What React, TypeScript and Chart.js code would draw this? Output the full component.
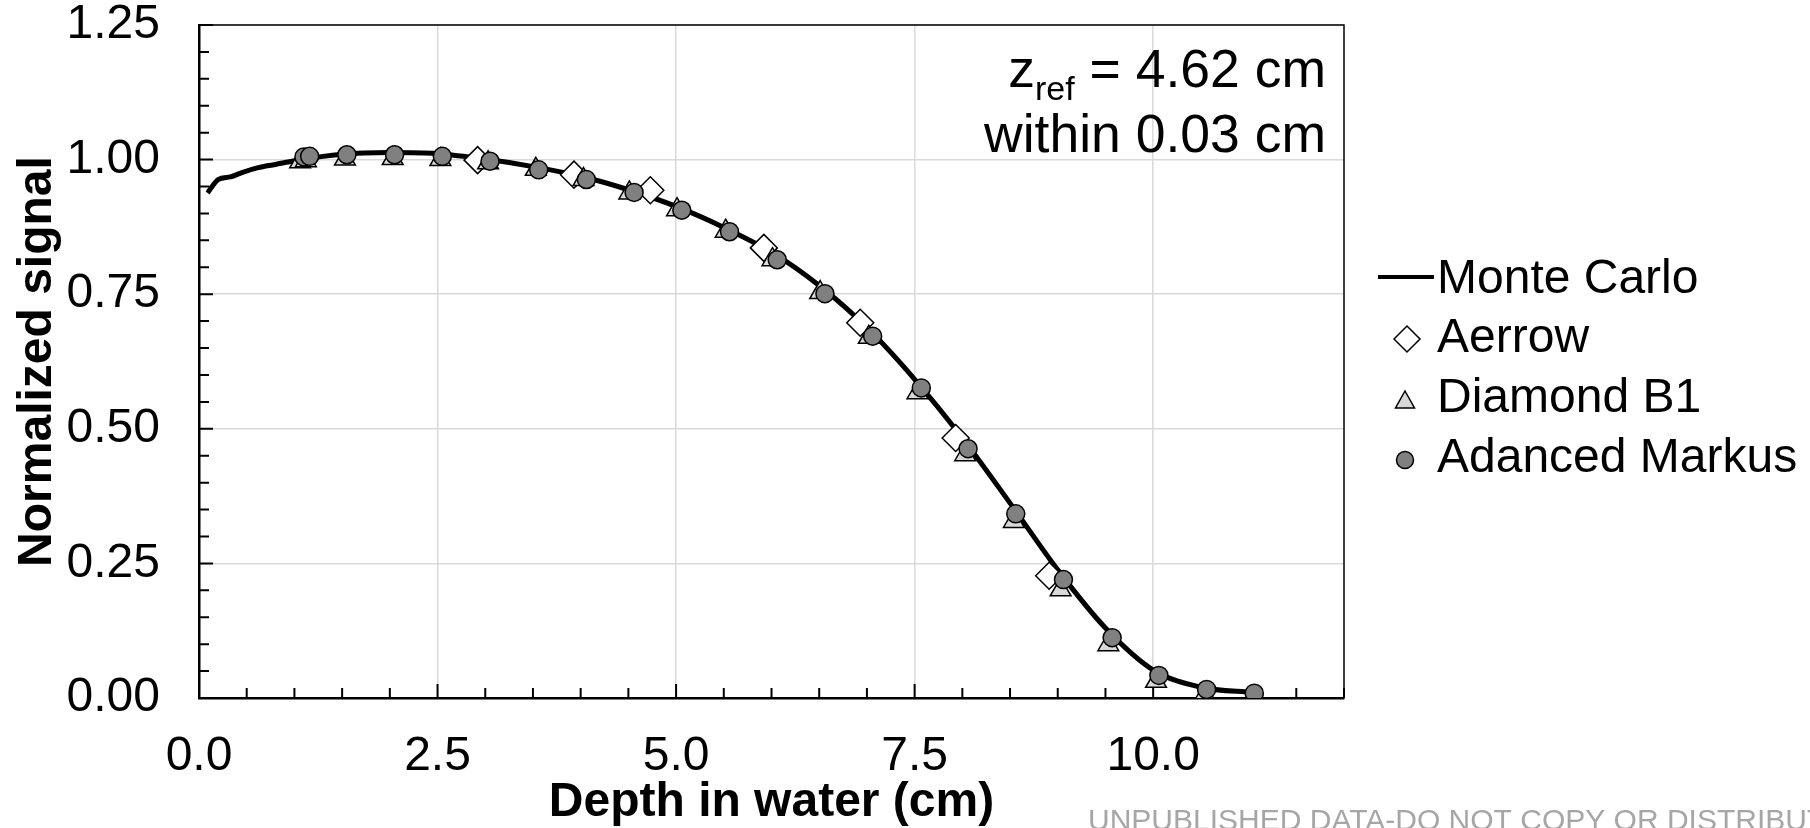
import React, { useEffect, useRef } from 'react';
import { Chart, registerables } from 'chart.js';

Chart.register(...registerables);

// ---- data ----
const mcDepth = [0.09, 0.2, 0.33, 0.45, 0.62, 0.8, 1.0, 1.5, 2.0, 2.5, 3.0, 3.5, 4.0, 4.5, 5.0, 5.5, 6.0, 6.5, 7.0, 7.5, 8.0, 8.5, 9.0, 9.5, 10.0, 10.5, 11.06];
const mcSignal = [0.938, 0.963, 0.968, 0.976, 0.985, 0.991, 0.998, 1.010, 1.013, 1.011, 1.001, 0.987, 0.969, 0.944, 0.913, 0.874, 0.828, 0.766, 0.688, 0.592, 0.483, 0.362, 0.238, 0.130, 0.052, 0.020, 0.010];

const aerrowDepth = [2.92, 3.93, 4.73, 5.92, 6.93, 7.93, 8.91];
const aerrowSignal = [0.999, 0.972, 0.943, 0.836, 0.697, 0.483, 0.227];

const b1Depth = [1.06, 1.12, 1.53, 2.03, 2.53, 3.03, 3.53, 4.03, 4.51, 5.01, 5.52, 6.01, 6.51, 7.02, 7.53, 8.03, 8.54, 9.03, 9.53, 10.03, 10.54];
const b1Signal = [0.996, 0.998, 1.001, 1.002, 1.000, 0.994, 0.982, 0.963, 0.938, 0.907, 0.867, 0.814, 0.753, 0.670, 0.567, 0.452, 0.328, 0.201, 0.099, 0.031, 0.006];

const markusDepth = [1.10, 1.16, 1.55, 2.05, 2.55, 3.05, 3.56, 4.06, 4.56, 5.06, 5.56, 6.06, 6.56, 7.06, 7.57, 8.06, 8.56, 9.06, 9.57, 10.06, 10.56, 11.06];
const markusSignal = [1.005, 1.006, 1.009, 1.009, 1.006, 0.997, 0.981, 0.963, 0.939, 0.906, 0.866, 0.814, 0.751, 0.672, 0.576, 0.463, 0.342, 0.220, 0.112, 0.042, 0.016, 0.009];

const xTickValues = [0, 2.5, 5, 7.5, 10];
const yTickValues = [0, 0.25, 0.5, 0.75, 1.0, 1.25];

const seriesLabels = ['Monte Carlo', 'Aerrow', 'Diamond B1', 'Adanced Markus'];
const annotationMain = 'z';
const annotationSub = 'ref';
const annotationRest = ' = 4.62 cm';
const annotationLine2 = 'within 0.03 cm';
const watermark = 'UNPUBLISHED DATA-DO NOT COPY OR DISTRIBUTE';

const FONT = "'Liberation Sans', Arial, Helvetica, sans-serif";

const toPoints = (xs: number[], ys: number[]) => xs.map((x, i) => ({ x, y: ys[i] }));

const decorPlugin = {
  id: 'decor',
  beforeDatasetsDraw(chart: any) {
    const { ctx, chartArea: a, scales } = chart;
    const xs = scales.x;
    const ys = scales.y;
    ctx.save();
    ctx.strokeStyle = '#000';
    ctx.lineWidth = 2;
    ctx.beginPath();
    for (let i = 0; i <= 24; i++) {
      const px = xs.getPixelForValue(i * 0.5);
      const len = i % 5 === 0 ? 14 : 10;
      ctx.moveTo(px, a.bottom);
      ctx.lineTo(px, a.bottom - len);
    }
    for (let i = 0; i <= 25; i++) {
      const py = ys.getPixelForValue(i * 0.05);
      const len = i % 5 === 0 ? 14 : 10;
      ctx.moveTo(a.left, py);
      ctx.lineTo(a.left + len, py);
    }
    ctx.stroke();
    ctx.lineWidth = 1.5;
    ctx.beginPath();
    ctx.moveTo(a.left, a.top);
    ctx.lineTo(a.right, a.top);
    ctx.lineTo(a.right, a.bottom);
    ctx.stroke();
    ctx.restore();
  },
  afterDraw(chart: any) {
    const { ctx } = chart;
    ctx.save();
    ctx.fillStyle = '#000';
    ctx.strokeStyle = '#000';
    ctx.textBaseline = 'alphabetic';

    // annotation (top right of plot)
    const annX = 1326;
    const big = `53.5px ${FONT}`;
    const small = `34px ${FONT}`;
    ctx.textAlign = 'right';
    ctx.font = big;
    const wRest = ctx.measureText(annotationRest).width;
    ctx.fillText(annotationRest, annX, 87);
    ctx.font = small;
    const wSub = ctx.measureText(annotationSub).width;
    ctx.fillText(annotationSub, annX - wRest, 100);
    ctx.font = big;
    ctx.fillText(annotationMain, annX - wRest - wSub, 87);
    ctx.fillText(annotationLine2, annX, 152);

    // legend
    ctx.textAlign = 'left';
    ctx.font = `48px ${FONT}`;
    const tx = 1437;
    ctx.lineWidth = 4;
    ctx.beginPath();
    ctx.moveTo(1378, 277);
    ctx.lineTo(1434, 277);
    ctx.stroke();
    ctx.fillText(seriesLabels[0], tx, 293);

    ctx.lineWidth = 1.5;
    // diamond
    ctx.beginPath();
    ctx.moveTo(1394, 339);
    ctx.lineTo(1407, 326);
    ctx.lineTo(1420, 339);
    ctx.lineTo(1407, 352);
    ctx.closePath();
    ctx.fillStyle = '#ffffff';
    ctx.fill();
    ctx.stroke();
    ctx.fillStyle = '#000';
    ctx.fillText(seriesLabels[1], tx, 352);

    // triangle
    ctx.beginPath();
    ctx.moveTo(1405, 391);
    ctx.lineTo(1414.5, 408);
    ctx.lineTo(1395.5, 408);
    ctx.closePath();
    ctx.fillStyle = '#d9d9d9';
    ctx.fill();
    ctx.stroke();
    ctx.fillStyle = '#000';
    ctx.fillText(seriesLabels[2], tx, 412);

    // circle
    ctx.beginPath();
    ctx.arc(1405, 460, 8.5, 0, Math.PI * 2);
    ctx.fillStyle = '#808080';
    ctx.fill();
    ctx.stroke();
    ctx.fillStyle = '#000';
    ctx.fillText(seriesLabels[3], tx, 472);

    // watermark
    ctx.font = `30px ${FONT}`;
    ctx.fillStyle = '#a6a6a6';
    ctx.fillText(watermark, 1088, 830);
    ctx.restore();
  },
};

export default function App() {
  const ref = useRef<HTMLCanvasElement | null>(null);

  useEffect(() => {
    if (!ref.current) return;
    Chart.defaults.font.family = FONT;
    Chart.defaults.color = '#000';
    const chart = new Chart(ref.current, {
      type: 'scatter',
      data: {
        datasets: [
          {
            label: seriesLabels[0],
            data: toPoints(mcDepth, mcSignal),
            showLine: true,
            borderColor: '#000',
            borderWidth: 5,
            pointRadius: 0,
            cubicInterpolationMode: 'monotone',
            fill: false,
            order: 4,
          } as any,
          {
            label: seriesLabels[1],
            data: toPoints(aerrowDepth, aerrowSignal),
            pointStyle: 'rectRot',
            pointRadius: 13.5,
            pointBorderWidth: 1.5,
            backgroundColor: '#ffffff',
            borderColor: '#000',
            order: 3,
          },
          {
            label: seriesLabels[2],
            data: toPoints(b1Depth, b1Signal),
            pointStyle: 'triangle',
            pointRadius: 12,
            pointBorderWidth: 1.5,
            backgroundColor: '#d9d9d9',
            borderColor: '#000',
            order: 2,
          },
          {
            label: seriesLabels[3],
            data: toPoints(markusDepth, markusSignal),
            pointStyle: 'circle',
            pointRadius: 9,
            pointBorderWidth: 1.5,
            backgroundColor: '#808080',
            borderColor: '#000',
            order: 1,
          },
        ],
      },
      options: {
        animation: false,
        responsive: false,
        devicePixelRatio: 1,
        events: [],
        layout: { padding: { left: 0, top: 25, right: 466, bottom: 0 } },
        plugins: {
          legend: { display: false },
          tooltip: { enabled: false },
        },
        scales: {
          x: {
            type: 'linear',
            min: 0,
            max: 12,
            afterBuildTicks: (s: any) => {
              s.ticks = xTickValues.map((v) => ({ value: v }));
            },
            afterFit: (s: any) => {
              s.height = 130;
            },
            ticks: {
              font: { size: 48, lineHeight: 1 },
              padding: 35,
              maxRotation: 0,
              autoSkip: false,
              color: '#000',
              callback: (v: any) => Number(v).toFixed(1),
            },
            grid: { color: '#d9d9d9', lineWidth: 1.5, drawTicks: false },
            border: { display: true, color: '#000', width: 2.5 },
            title: {
              display: true,
              text: 'Depth in water (cm)',
              color: '#000',
              font: { size: 48, weight: 'bold', lineHeight: 1 },
              padding: { top: 0, bottom: 1 },
            },
          },
          y: {
            type: 'linear',
            min: 0,
            max: 1.25,
            afterBuildTicks: (s: any) => {
              s.ticks = yTickValues.map((v) => ({ value: v }));
            },
            afterFit: (s: any) => {
              s.width = 199;
            },
            ticks: {
              font: { size: 48, lineHeight: 1 },
              padding: 0,
              color: '#000',
              callback: (v: any) => Number(v).toFixed(2),
            },
            grid: {
              color: '#d9d9d9',
              lineWidth: 1.5,
              drawTicks: true,
              tickLength: 39,
              tickColor: 'rgba(0,0,0,0)',
            },
            border: { display: true, color: '#000', width: 2.5 },
            title: {
              display: true,
              text: 'Normalized signal',
              color: '#000',
              font: { size: 48, weight: 'bold', lineHeight: 1 },
              padding: { top: 14, bottom: 0 },
            },
          },
        },
      } as any,
      plugins: [decorPlugin],
    });
    return () => chart.destroy();
  }, []);

  return (
    <div style={{ position: 'fixed', left: 0, top: 0, width: 1810, height: 828, background: '#fff' }}>
      <canvas ref={ref} width={1810} height={828} style={{ display: 'block' }} />
    </div>
  );
}
